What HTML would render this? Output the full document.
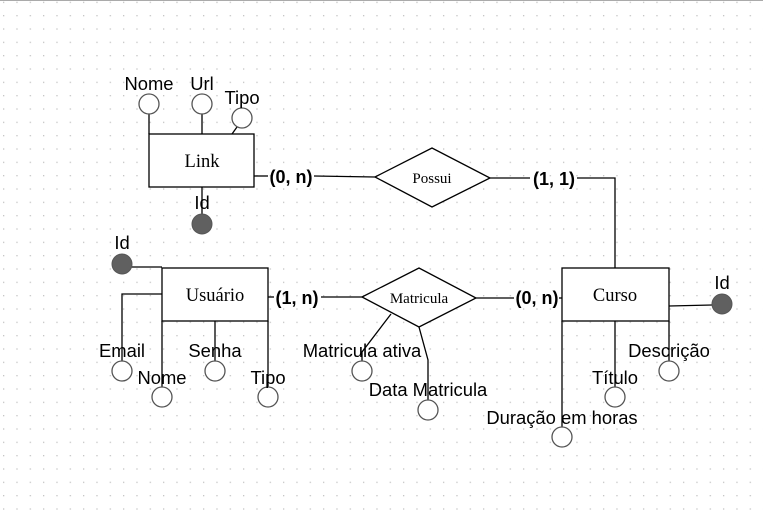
<!DOCTYPE html>
<html><head><meta charset="utf-8"><style>
html,body{margin:0;padding:0;background:#fff;width:763px;height:519px;overflow:hidden}
svg{display:block}
.l{font-family:"Liberation Sans",sans-serif;font-size:18.4px;fill:#000;text-anchor:middle}
.b{font-family:"Liberation Sans",sans-serif;font-size:18px;font-weight:bold;fill:#000;text-anchor:middle}
.s{font-family:"Liberation Serif",serif;fill:#000;text-anchor:middle}
</style></head><body>
<svg width="763" height="519" viewBox="0 0 763 519" xmlns="http://www.w3.org/2000/svg">
<defs><pattern id="g" x="3" y="1.7" width="13.333" height="13.333" patternUnits="userSpaceOnUse"><rect x="0" y="0" width="1.3" height="1.3" fill="#c4c4c4"/></pattern></defs>
<rect width="763" height="519" fill="url(#g)"/>
<line x1="0" y1="0.5" x2="763" y2="0.5" stroke="#aaa" stroke-width="1"/>
<g stroke="#000" stroke-width="1.3" fill="none">
<rect x="149" y="134" width="105" height="53" fill="#fff"/>
<line x1="149" y1="114" x2="149" y2="134"/>
<line x1="202" y1="114" x2="202" y2="134"/>
<line x1="237" y1="127" x2="232" y2="134"/>
<line x1="202" y1="187" x2="202" y2="214"/>
<line x1="254" y1="176" x2="268" y2="176"/>
<line x1="314" y1="176" x2="375" y2="177"/>
<polygon points="375,177 432,148 490,178 432,207" fill="#fff"/>
<polyline points="490,178 530,178"/>
<polyline points="577,178 615,178 615,268"/>
<rect x="562" y="268" width="107" height="53" fill="#fff"/>
<line x1="669" y1="306" x2="712" y2="305"/>
<line x1="562" y1="321" x2="562" y2="427"/>
<line x1="615" y1="321" x2="615" y2="387"/>
<line x1="669" y1="321" x2="669" y2="361"/>
<polygon points="362,297 419,268 476,298 419,327" fill="#fff"/>
<line x1="476" y1="298" x2="514" y2="298"/>
<line x1="559" y1="298" x2="562" y2="298"/>
<polyline points="391,314 362,352 362,361"/>
<polyline points="419,327 428,360 428,400"/>
<rect x="162" y="268" width="106" height="53" fill="#fff"/>
<line x1="268" y1="297" x2="274" y2="297"/>
<line x1="321" y1="297" x2="362" y2="297"/>
<line x1="130" y1="267" x2="162" y2="267"/>
<polyline points="162,294 122,294 122,361"/>
<line x1="162" y1="321" x2="162" y2="387"/>
<line x1="215" y1="321" x2="215" y2="361"/>
<line x1="268" y1="321" x2="268" y2="387"/>
</g>
<g stroke="#555" stroke-width="1.3" fill="#fff">
<circle cx="149" cy="104" r="10"/>
<circle cx="202" cy="104" r="10"/>
<circle cx="242" cy="118" r="10"/>
<circle cx="562" cy="437" r="10"/>
<circle cx="615" cy="397" r="10"/>
<circle cx="669" cy="371" r="10"/>
<circle cx="362" cy="371" r="10"/>
<circle cx="428" cy="410" r="10"/>
<circle cx="122" cy="371" r="10"/>
<circle cx="162" cy="397" r="10"/>
<circle cx="215" cy="371" r="10"/>
<circle cx="268" cy="397" r="10"/>
</g>
<g fill="#606060" stroke="#555" stroke-width="1">
<circle cx="202" cy="224" r="10"/>
<circle cx="722" cy="304" r="10"/>
<circle cx="122" cy="264" r="10"/>
</g>
<text class="s" x="202" y="167" font-size="18.5">Link</text>
<text class="s" x="432" y="183" font-size="15">Possui</text>
<text class="s" x="419" y="303" font-size="15">Matricula</text>
<text class="s" x="615" y="301" font-size="18.5">Curso</text>
<text class="s" x="215" y="301" font-size="18.5">Usuário</text>
<text class="b" x="291" y="183">(0, n)</text>
<text class="b" x="554" y="185">(1, 1)</text>
<text class="b" x="537" y="304">(0, n)</text>
<text class="b" x="297" y="304">(1, n)</text>
<text class="l" x="149" y="90">Nome</text>
<text class="l" x="202" y="90">Url</text>
<text class="l" x="242" y="104">Tipo</text>
<text class="l" x="202" y="209">Id</text>
<text class="l" x="722" y="289">Id</text>
<text class="l" x="122" y="249">Id</text>
<text class="l" x="562" y="424">Duração em horas</text>
<text class="l" x="615" y="384">Título</text>
<text class="l" x="669" y="357">Descrição</text>
<text class="l" x="362" y="357">Matricula ativa</text>
<text class="l" x="428" y="396">Data Matricula</text>
<text class="l" x="122" y="357">Email</text>
<text class="l" x="162" y="384">Nome</text>
<text class="l" x="215" y="357">Senha</text>
<text class="l" x="268" y="384">Tipo</text>
</svg>
</body></html>
